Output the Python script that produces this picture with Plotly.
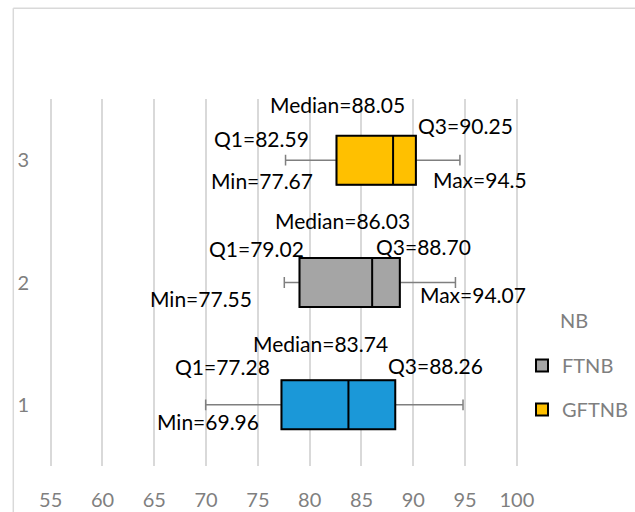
import plotly.graph_objects as go

# ---------------- data ----------------
categories = ['1', '2', '3']
series_names = ['', 'FTNB', 'GFTNB']
mins = [69.96, 77.55, 77.67]
q1s = [77.28, 79.02, 82.59]
medians = [83.74, 86.03, 88.05]
q3s = [88.26, 88.70, 90.25]
maxs = [94.8, 94.07, 94.5]
x_ticks = [55, 60, 65, 70, 75, 80, 85, 90, 95, 100]
legend_title = 'NB'

# ---------------- style ----------------
fill_colors = ['#1B98D8', '#A5A5A5', '#FFC000']
FONT = 'Lato'
GRID = '#D9D9D9'
GRAYTXT = '#7F7F7F'

fig = go.Figure()
for i, cat in enumerate(categories):
    # whiskers (gray) with caps
    fig.add_trace(go.Box(
        orientation='h', y=[cat],
        q1=[q1s[i]], median=[medians[i]], q3=[q3s[i]],
        lowerfence=[mins[i]], upperfence=[maxs[i]],
        width=0.4, whiskerwidth=0.22,
        line=dict(color='#7F7F7F', width=1.5),
        fillcolor=fill_colors[i], showlegend=False, hoverinfo='skip',
        boxpoints=False, legendgroup='w' + cat))
    # box body (black outline)
    fig.add_trace(go.Box(
        orientation='h', y=[cat],
        q1=[q1s[i]], median=[medians[i]], q3=[q3s[i]],
        lowerfence=[q1s[i]], upperfence=[q3s[i]],
        width=0.4, whiskerwidth=0,
        line=dict(color='#000000', width=2),
        fillcolor=fill_colors[i], name=series_names[i] or 'series1',
        showlegend=bool(series_names[i]), boxpoints=False,
        legendgroup='g' + cat))

# ---------------- labels ----------------
# (stat, values, fmt, per-box pixel offsets (dx, dy) or None)
label_specs = [
    ('Median', medians, '.2f', [(-27.5, 61.3), (-30, 62.4), (-55.5, 55.2)]),
    ('Q1', q1s, '.2f', [(-59.4, 37.9), (-43.1, 34.1), (-75.1, 21.9)]),
    ('Q3', q3s, '.2f', [(40.4, 39.6), (23.3, 35.7), (49.3, 34.5)]),
    ('Min', mins, '.2f', [(2.1, -17.1), (-83.2, -15.9), (-23.8, -20.5)]),
    ('Max', maxs, 'g', [None, (18, -11.6), (20.2, -19.1)]),
]
for stat, vals, fmt, offs in label_specs:
    for i, cat in enumerate(categories):
        if offs[i] is None:
            continue
        dx, dy = offs[i]
        fig.add_annotation(
            x=vals[i], y=i, xref='x', yref='y',
            text=f'{stat}={vals[i]:{fmt}}', showarrow=False,
            xshift=dx, yshift=dy, xanchor='center', yanchor='middle',
            font=dict(family=FONT, size=21, color='#000000'))

# ---------------- layout ----------------
L, R, T, B = 40, 115, 99, 46
W, H = 635, 512
pw, ph = W - L - R, H - T - B

def px_to_paper_x(px):
    return (px - L) / pw

def px_to_paper_y(py):
    return (H - B - py) / ph

fig.add_shape(type='line', xref='paper', yref='paper',
              x0=px_to_paper_x(13.3), x1=px_to_paper_x(13.3),
              y0=px_to_paper_y(8.3), y1=px_to_paper_y(530),
              line=dict(color=GRID, width=1.5))
fig.add_shape(type='line', xref='paper', yref='paper',
              x0=px_to_paper_x(13.3), x1=px_to_paper_x(660),
              y0=px_to_paper_y(8.3), y1=px_to_paper_y(8.3),
              line=dict(color=GRID, width=1.5))

# legend title
fig.add_annotation(text=legend_title, xref='paper', yref='paper',
                   x=px_to_paper_x(574), y=px_to_paper_y(320),
                   xanchor='center', yanchor='middle', showarrow=False,
                   font=dict(family=FONT, size=20, color=GRAYTXT))

fig.update_layout(
    width=W, height=H,
    margin=dict(l=L, r=R, t=T, b=B, autoexpand=False),
    paper_bgcolor='white', plot_bgcolor='white',
    font=dict(family=FONT, size=20, color=GRAYTXT),
    boxmode='overlay',
    xaxis=dict(range=[53.97, 100.3], tickvals=x_ticks,
               showgrid=True, gridcolor=GRID, gridwidth=1.5,
               zeroline=False, showline=False, ticks='',
               ticklabelstandoff=20,
               tickfont=dict(family=FONT, size=20, color=GRAYTXT)),
    yaxis=dict(type='category', categoryorder='array', categoryarray=categories,
               range=[-0.5, 2.5], showgrid=False, zeroline=False,
               showline=False, ticks='', ticklabelstandoff=10,
               tickfont=dict(family=FONT, size=20, color=GRAYTXT)),
    legend=dict(x=px_to_paper_x(522), xanchor='left',
                y=px_to_paper_y(346), yanchor='top',
                traceorder='grouped', tracegroupgap=15,
                font=dict(family=FONT, size=20, color=GRAYTXT),
                bgcolor='rgba(0,0,0,0)'),
)

fig.write_html('out.html', config={'displayModeBar': False},
               post_script="document.body.style.margin='0';")
